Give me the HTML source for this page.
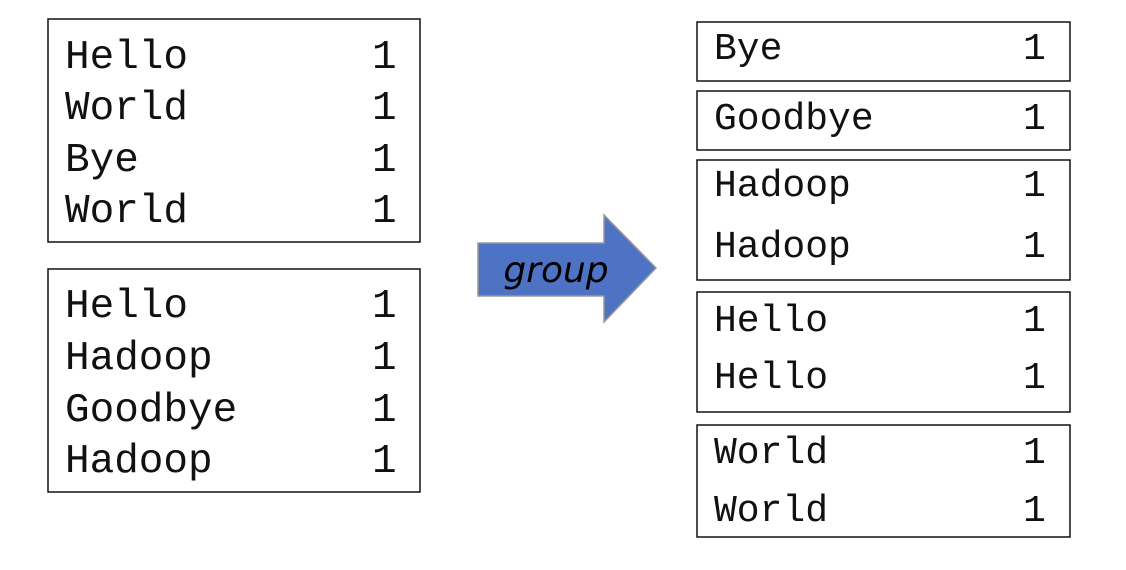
<!DOCTYPE html>
<html><head><meta charset="utf-8"><style>
html,body{margin:0;padding:0;background:#fff;width:1126px;height:570px;overflow:hidden}
text{font-family:"Liberation Mono","Courier New",monospace;fill:#111}
.l{font-size:41px}.r{font-size:38px}
</style></head><body>
<svg width="1126" height="570" xmlns="http://www.w3.org/2000/svg">
<g fill="none" stroke="#111" stroke-width="1.5">
<rect x="48" y="19" width="372" height="223"/>
<rect x="48" y="269" width="372" height="223"/>
<rect x="697" y="22" width="373" height="59"/>
<rect x="697" y="91" width="373" height="59"/>
<rect x="697" y="160" width="373" height="120"/>
<rect x="697" y="292" width="373" height="120"/>
<rect x="697" y="425" width="373" height="112"/>
</g>
<g class="l">
<text x="65" y="68">Hello</text><text x="372" y="68">1</text>
<text x="65" y="119">World</text><text x="372" y="119">1</text>
<text x="65" y="171">Bye</text><text x="372" y="171">1</text>
<text x="65" y="222">World</text><text x="372" y="222">1</text>
<text x="65" y="317">Hello</text><text x="372" y="317">1</text>
<text x="65" y="369">Hadoop</text><text x="372" y="369">1</text>
<text x="65" y="421">Goodbye</text><text x="372" y="421">1</text>
<text x="65" y="472">Hadoop</text><text x="372" y="472">1</text>
</g>
<g class="r">
<text x="714" y="59">Bye</text><text x="1023" y="59">1</text>
<text x="714" y="129">Goodbye</text><text x="1023" y="129">1</text>
<text x="714" y="196">Hadoop</text><text x="1023" y="196">1</text>
<text x="714" y="257">Hadoop</text><text x="1023" y="257">1</text>
<text x="714" y="331">Hello</text><text x="1023" y="331">1</text>
<text x="714" y="388">Hello</text><text x="1023" y="388">1</text>
<text x="714" y="463">World</text><text x="1023" y="463">1</text>
<text x="714" y="521">World</text><text x="1023" y="521">1</text>
</g>
<polygon points="478,243 604,243 604,215 656,268 604,322 604,296 478,296" fill="#4e72c4" stroke="#999" stroke-width="1.5"/>
<text x="556" y="282" text-anchor="middle" style="font-family:'DejaVu Sans','Liberation Sans',sans-serif;font-style:italic;font-size:36px;fill:#000">group</text>
</svg>
</body></html>
